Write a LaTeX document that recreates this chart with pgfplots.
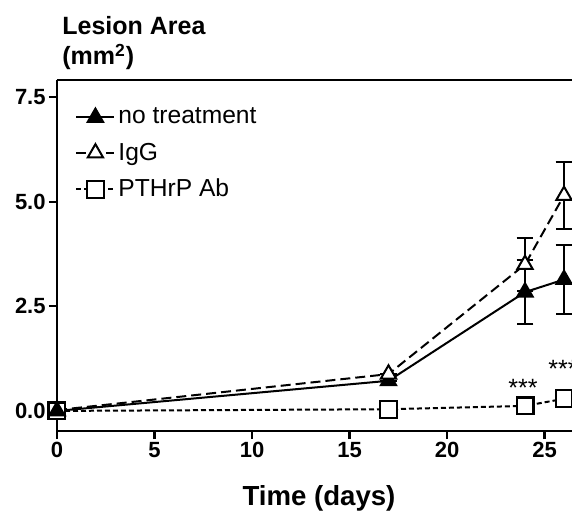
\documentclass[border=0pt]{standalone}
\usepackage{pgfplots}
\pgfplotsset{compat=1.18}
\usepackage{fontspec}
\setmainfont{Liberation Sans}
\begin{document}
\begin{tikzpicture}
\begin{axis}[
  scale only axis, width=257.5pt, height=175.5pt,
  xmin=0, xmax=26.41, ymin=-0.48, ymax=7.91,
  clip=false,
  axis x line*=bottom, axis y line*=left,
  axis line style={line width=1.3pt,-},
  xtick={0,5,10,15,20,25}, ytick={0,2.5,5,7.5},
  tick style={line width=1.1pt,black},
  tick align=outside, major tick length=4pt,
  /pgf/number format/assume math mode=true,
  ticklabel style={font=\fontsize{11}{13}\selectfont\bfseries},
  xticklabel style={inner sep=1.5pt},
  yticklabel style={inner sep=1.5pt},
  yticklabel={\pgfmathprintnumber[fixed,fixed zerofill,precision=1,assume math mode=true]{\tick}},
  legend style={at={(rel axis cs:0.035,0.93)}, anchor=north west, draw=none, fill=none,
    font=\fontsize{12.3}{14}\selectfont, row sep=5pt, inner sep=0pt, nodes={inner sep=1.5pt}},
  legend cell align=left,
  legend image code/.code={\draw[#1] (-1pt,0pt) -- (18pt,0pt); \draw[#1,solid] plot coordinates {(8.5pt,0pt)};},
]
\addplot[black, line width=1pt, mark=triangle*, mark size=4.4pt, mark options={solid,fill=black},
  error bars/.cd, y dir=both, y explicit, error bar style={line width=1.1pt,solid}, error mark options={rotate=90,mark size=4.2pt,line width=1.1pt}]
  coordinates {(0,0) +- (0,0) (17,0.72) +- (0,0) (24,2.84) +- (0,0.77) (26,3.14) +- (0,0.83)};
\addlegendentry{no treatment}
\addplot[black, line width=1pt, dash pattern=on 5pt off 2.5pt, mark=triangle*, mark size=4.4pt, mark options={solid,fill=white,line width=1pt},
  error bars/.cd, y dir=both, y explicit, error bar style={line width=1.1pt,solid}, error mark options={rotate=90,mark size=4.2pt,line width=1.1pt}]
  coordinates {(0,0.02) +- (0,0) (17,0.88) +- (0,0) (24,3.5) +- (0,0.63) (26,5.15) +- (0,0.8)};
\addlegendentry{IgG}
\addplot[black, line width=1pt, dash pattern=on 2.5pt off 1.5pt, mark=square*, mark size=4.2pt, mark options={solid,fill=white,line width=1.1pt}]
  coordinates {(0,0) (17,0.04) (24,0.12) (26,0.29)};
\addlegendentry{PTHrP Ab}
\addplot[black, line width=1pt, mark=triangle*, mark size=4.4pt, mark options={fill=black}, forget plot] coordinates {(0,0)};
\draw[line width=1.3pt] (rel axis cs:0,1) -- (rel axis cs:1,1);
\node[font=\fontsize{12.5}{14}\selectfont, inner sep=0pt] at (axis cs:23.9,0.55) {***};
\node[font=\fontsize{12.5}{14}\selectfont, inner sep=0pt] at (axis cs:25.95,1.0) {***};
\node[anchor=base west, inner sep=0pt, font=\fontsize{12.5}{14}\selectfont\bfseries] at (2.5pt,198pt) {Lesion Area};
\node[anchor=base west, inner sep=0pt, font=\fontsize{12.5}{14}\selectfont\bfseries] at (2.5pt,183pt) {(mm\textsuperscript{2})};
\node[anchor=base, inner sep=0pt, font=\fontsize{13.8}{16}\selectfont\bfseries] at (131pt,-37pt) {Time (days)};
\end{axis}
\pgfresetboundingbox
\path (-28.5pt,-41.5pt) rectangle (257.5pt,215.5pt);
\end{tikzpicture}
\end{document}
